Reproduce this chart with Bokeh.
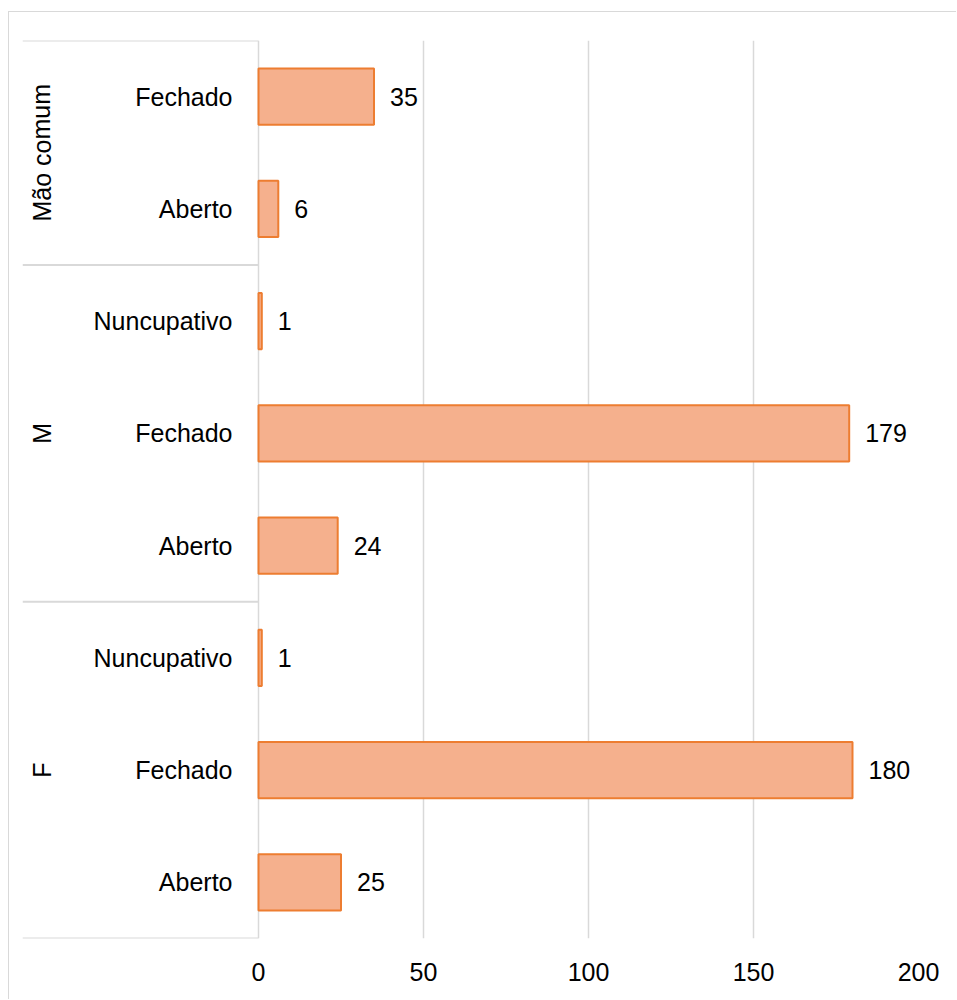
from bokeh.plotting import figure
from bokeh.models import ColumnDataSource, Range1d, FixedTicker
from bokeh.core.properties import value
from bokeh.embed import file_html
from bokeh.resources import INLINE

# ---- data (bottom to top) ----
groups = ["F", "F", "F", "M", "M", "M", "Mão comum", "Mão comum"]
subcats = ["Aberto", "Fechado", "Nuncupativo", "Aberto", "Fechado", "Nuncupativo", "Aberto", "Fechado"]
values = [25, 180, 1, 24, 179, 1, 6, 35]
x_ticks = [0, 50, 100, 150, 200]

FONT = "Liberation Sans"
FS = "25px"
GRID = "#d9d9d9"

rows = list(range(len(values)))
labels = [str(v) for v in values]

# figure placed at (8, 11) in the page, with a light border on top/left
OX, OY = 9, 12
W, H = 957 - OX, 1000 - OY
# frame: left edge at page x=22, value 0 at 258, value 200 at 918; top 40, bottom 938
px_per_unit = (918 - 258) / 200.0
x_left = -(258 - 22) / px_per_unit

p = figure(width=W, height=H, output_backend="svg", toolbar_location=None,
           x_range=Range1d(x_left, 200), y_range=Range1d(-0.5, len(values) - 0.5),
           y_axis_location=None, min_border_left=22 - OX, min_border_right=957 - 918,
           min_border_top=40 - OY, min_border_bottom=H - (938 - OY))
p.margin = (OY - 1, 0, 0, OX - 1)
p.styles = {"border-top": "1px solid #d9d9d9", "border-left": "1px solid #d9d9d9"}
p.outline_line_color = None
p.background_fill_color = "white"
p.border_fill_color = "white"

# axis
p.xaxis.ticker = FixedTicker(ticks=x_ticks)
p.xaxis.axis_line_color = None
p.xaxis.major_tick_line_color = None
p.xaxis.minor_tick_line_color = None
p.xaxis.major_label_text_font = FONT
p.xaxis.major_label_text_font_size = FS
p.xaxis.major_label_text_color = "#000000"
p.xaxis.major_label_standoff = 18
p.xgrid.ticker = FixedTicker(ticks=x_ticks)
p.xgrid.grid_line_color = GRID
p.xgrid.grid_line_width = 1.5
p.ygrid.visible = False

src = ColumnDataSource(dict(y=rows, v=values, lab=labels, sub=subcats))

# bars
p.hbar(y="y", left=0, right="v", height=0.5, source=src,
       fill_color="#f5b08d", line_color="#ed7d31", line_width=2)

# value labels
gap = 16 / px_per_unit
src.data["vx"] = [v + gap for v in values]
p.text(x="vx", y="y", text="lab", source=src, text_font=value(FONT),
       text_font_size=FS, text_align="left", text_baseline="middle", text_color="#000000")

# sub-category labels
sub_x = -26 / px_per_unit
p.text(x=sub_x, y="y", text="sub", source=src, text_font=value(FONT),
       text_font_size=FS, text_align="right", text_baseline="middle", text_color="#000000")

# group labels and separators
uniq = []
for g in groups:
    if g not in uniq:
        uniq.append(g)
g_centers, bounds = [], [-0.5]
for g in uniq:
    idx = [i for i, gg in enumerate(groups) if gg == g]
    g_centers.append((min(idx) + max(idx)) / 2.0)
    bounds.append(max(idx) + 0.5)
grp_x = x_left + 19 / px_per_unit
p.text(x=[grp_x] * len(uniq), y=g_centers, text=uniq, angle=1.5708,
       text_font=value(FONT), text_font_size=FS, text_align="center",
       text_baseline="middle", text_color="#000000")
p.segment(x0=[x_left] * len(bounds), y0=bounds, x1=[0] * len(bounds), y1=bounds,
          line_color=GRID, line_width=2)

open("out.html", "w").write(file_html(p, INLINE))
